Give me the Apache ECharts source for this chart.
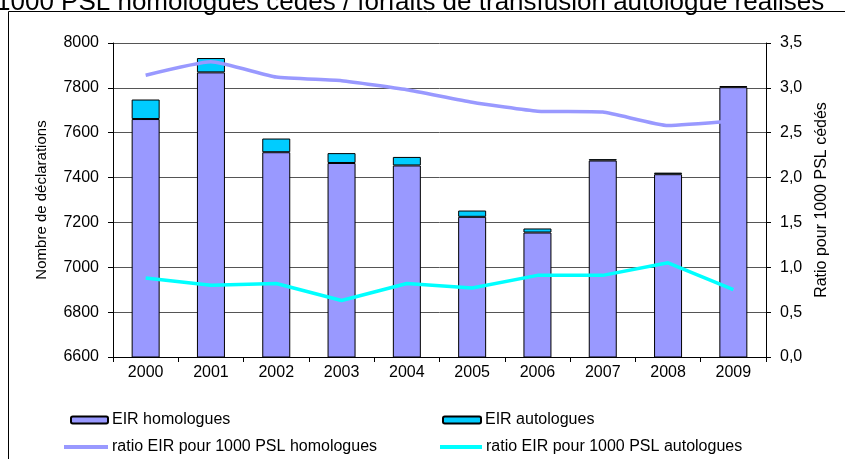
<!DOCTYPE html>
<html>
<head>
<meta charset="utf-8">
<script src="https://cdn.jsdelivr.net/npm/echarts@6/dist/echarts.min.js"></script>
<style>
  html, body { margin: 0; padding: 0; background: #fff; }
  #chart { width: 845px; height: 459px; }
</style>
</head>
<body>
<div id="chart"></div>
<script>
var years = ['2000', '2001', '2002', '2003', '2004', '2005', '2006', '2007', '2008', '2009'];
var eirHomologues = [7661, 7869, 7513, 7465, 7454, 7225, 7155, 7476, 7415, 7803];
var eirAutologues = [87, 64, 61, 44, 38, 28, 18, 6, 7, 5];
var ratioHomologues = [3.14, 3.29, 3.12, 3.08, 2.98, 2.84, 2.74, 2.73, 2.58, 2.63];
var ratioAutologues = [0.88, 0.80, 0.82, 0.63, 0.82, 0.77, 0.91, 0.91, 1.05, 0.75];

var FONT = 'Liberation Sans, Arial, sans-serif';

var myChart = echarts.init(document.getElementById('chart'));

function legendItem(name, left, top, w, h, icon) {
    var leg = {
        data: [icon ? { name: name, icon: icon } : name],
        left: left, top: top,
        padding: 0,
        itemWidth: w, itemHeight: h,
        itemGap: 0,
        textStyle: { fontFamily: FONT, fontSize: 16, color: '#000', lineHeight: 16, padding: [0, 0, 0, -1] }
    };
    if (icon) leg.itemStyle = { borderWidth: 0 };
    return leg;
}

var option = {
    backgroundColor: '#fff',
    animation: false,
    title: {
        text: '1000 PSL homologues cédés / forfaits de transfusion autologue réalisés',
        left: -4, top: -10, padding: 0,
        textStyle: { fontFamily: FONT, fontSize: 26, fontWeight: 'normal', color: '#000' }
    },
    graphic: [{
        type: 'rect',
        shape: { x: 8.5, y: 11.5, width: 900, height: 500 },
        style: { fill: 'none', stroke: '#000', lineWidth: 1 },
        silent: true
    }],
    legend: [
        legendItem('EIR homologues', 70, 412, 37, 7),
        legendItem('EIR autologues', 442, 412, 38, 7),
        legendItem('ratio EIR pour 1000 PSL homologues', 64, 439, 44, 4, 'rect'),
        legendItem('ratio EIR pour 1000 PSL autologues', 440, 439, 42, 4, 'rect')
    ],
    grid: { left: 113, right: 79, top: 43, bottom: 102 },
    xAxis: {
        type: 'category',
        data: years,
        axisLine: { lineStyle: { color: '#000', width: 1 } },
        axisTick: { show: true, length: 5, lineStyle: { color: '#000' } },
        axisLabel: { color: '#000', fontFamily: FONT, fontSize: 16, margin: 8 }
    },
    yAxis: [{
        type: 'value',
        min: 6600, max: 8000, interval: 200,
        name: 'Nombre de déclarations',
        nameLocation: 'middle', nameRotate: 90, nameGap: 64,
        nameTextStyle: { color: '#000', fontFamily: FONT, fontSize: 15 },
        axisLine: { show: true, lineStyle: { color: '#000' } },
        axisTick: { show: true, length: 5, lineStyle: { color: '#000' } },
        axisLabel: {
            color: '#000', fontFamily: FONT, fontSize: 16, margin: 14,
            formatter: function (v) { return String(v); }
        },
        splitLine: { show: true, lineStyle: { color: '#555', width: 1 } }
    }, {
        type: 'value',
        min: 0, max: 3.5, interval: 0.5,
        position: 'right',
        name: 'Ratio pour 1000 PSL cédés',
        nameLocation: 'middle', nameRotate: 90, nameGap: 47,
        nameTextStyle: { color: '#000', fontFamily: FONT, fontSize: 16 },
        axisLine: { show: true, lineStyle: { color: '#000' } },
        axisTick: { show: true, length: 5, lineStyle: { color: '#000' } },
        axisLabel: {
            color: '#000', fontFamily: FONT, fontSize: 16, margin: 14,
            formatter: function (v) { return v.toFixed(1).replace('.', ','); }
        },
        splitLine: { show: false }
    }],
    series: [{
        name: 'EIR homologues',
        type: 'bar',
        stack: 'eir',
        barWidth: 28,
        data: eirHomologues,
        itemStyle: { color: '#9999FF', borderColor: '#000', borderWidth: 1 }
    }, {
        name: 'EIR autologues',
        type: 'bar',
        stack: 'eir',
        barWidth: 28,
        data: eirAutologues,
        itemStyle: { color: '#00CCFF', borderColor: '#000', borderWidth: 1 }
    }, {
        name: 'ratio EIR pour 1000 PSL homologues',
        type: 'line',
        yAxisIndex: 1,
        data: ratioHomologues,
        symbol: 'none',
        smooth: 0.15,
        lineStyle: { color: '#9999FF', width: 3.5 },
        itemStyle: { color: '#9999FF' }
    }, {
        name: 'ratio EIR pour 1000 PSL autologues',
        type: 'line',
        yAxisIndex: 1,
        data: ratioAutologues,
        symbol: 'none',
        lineStyle: { color: '#00FFFF', width: 3.5 },
        itemStyle: { color: '#00FFFF' }
    }]
};

myChart.setOption(option);
</script>
</body>
</html>
